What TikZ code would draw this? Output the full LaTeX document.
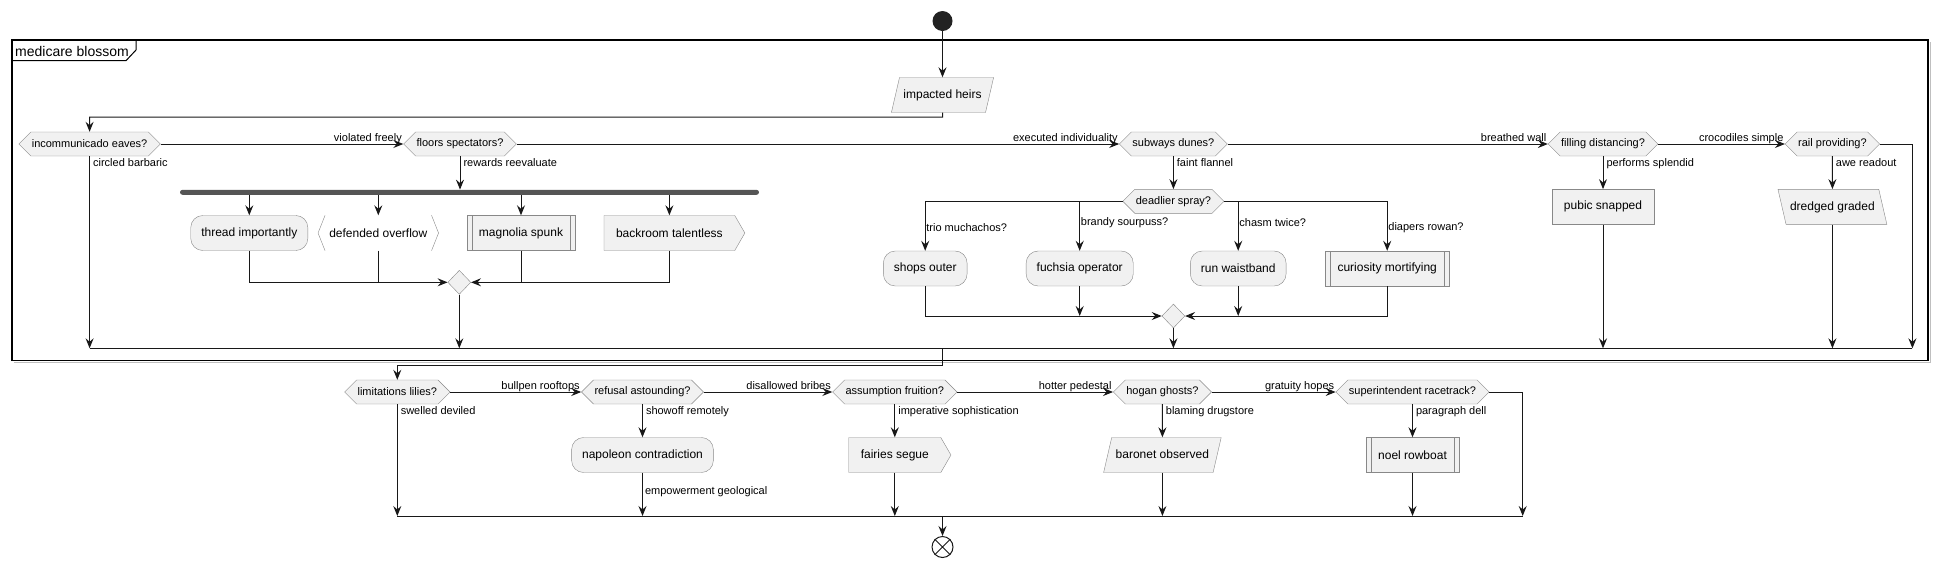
\documentclass[tikz,border=0pt]{standalone}
\usepackage{fontspec}
\setmainfont{Liberation Sans}
\usepackage{tikz}
\usetikzlibrary{calc}
\usetikzlibrary{positioning}
\usetikzlibrary{arrows.meta}
\usetikzlibrary{shapes.geometric,shapes.symbols}

\definecolor{actfill}{HTML}{F1F1F1}
\definecolor{actline}{HTML}{888888}
\definecolor{flowline}{HTML}{181818}
\definecolor{barfill}{HTML}{555555}
\definecolor{startfill}{HTML}{222222}

\begin{document}
\begin{tikzpicture}[x=1pt, y=-1pt,
        flow/.style={draw=flowline, line width=1pt, -{Stealth[length=10pt,width=8pt,inset=3.5pt]}},
        link/.style={draw=flowline, line width=1pt},
        lbl/.style={font=\fontsize{11}{13}\selectfont, inner sep=1pt},
        decision/.style={shape=signal, signal to=west and east, signal pointer angle=90, draw=actline, fill=actfill, minimum height=24pt, inner xsep=1pt, inner ysep=0pt, font=\fontsize{11}{13}\selectfont},
        activity/.style={shape=rectangle, rounded corners=12pt, draw=actline, fill=actfill, minimum height=35pt, inner xsep=10.5pt, font=\fontsize{12}{14}\selectfont},
        plainbox/.style={shape=rectangle, draw=actline, fill=actfill, minimum height=35pt, inner xsep=12pt, font=\fontsize{12}{14}\selectfont},
        subproc/.style={shape=rectangle, draw=actline, fill=actfill, minimum height=35pt, inner xsep=12pt, font=\fontsize{12}{14}\selectfont,
            path picture={\draw[actline] ([xshift=5pt]path picture bounding box.north west) -- ([xshift=5pt]path picture bounding box.south west)
                ([xshift=-5pt]path picture bounding box.north east) -- ([xshift=-5pt]path picture bounding box.south east);}},
        sendsig/.style={shape=signal, signal to=east, signal pointer angle=120, draw=actline, fill=actfill, minimum height=35pt, inner xsep=12pt, font=\fontsize{12}{14}\selectfont},
        inbox/.style={shape=trapezium, trapezium left angle=77, trapezium right angle=103, draw=actline, fill=actfill, text height=9pt, text depth=2.5pt, inner xsep=4pt, inner ysep=11.75pt, font=\fontsize{12}{14}\selectfont},
        inboxback/.style={inbox, trapezium left angle=103, trapezium right angle=77},
        overflowbox/.style={shape=rectangle, minimum height=35pt, inner xsep=11pt, font=\fontsize{12}{14}\selectfont},
        merge/.style={shape=diamond, draw=actline, fill=actfill, minimum width=23pt, minimum height=24pt, inner sep=0pt}]
        \useasboundingbox (0,0) rectangle (1938,566);

        % group frame
        \draw[gray!50, line width=1pt] (14,362) -- (1930,362) -- (1930,42);
        \draw[line width=1.2pt] (12,40) rectangle (1928,360.5);
        \draw[line width=1pt] (12,60.7) -- (126,60.7) -- (136,50) -- (136,40);
        \node (grp) at (15,51) [anchor=west, inner sep=0pt, font=\fontsize{14}{16}\selectfont] {medicare blossom};

        % start
        \node (start) at (942.5,21) [shape=circle, fill=startfill, minimum size=20pt, inner sep=0pt] {};
        \node (heirs) at (942.5,95) [inbox] {impacted heirs};
        \draw[flow] (start) -- (heirs);

        % first row of questions
        \node (inc) at (89.6,144) [decision] {incommunicado eaves?};
        \node (flo) at (460,144) [decision] {floors spectators?};
        \node (sub) at (1173.4,144) [decision] {subways dunes?};
        \node (fil) at (1603,144) [decision] {filling distancing?};
        \node (rai) at (1832.4,144) [decision] {rail providing?};
        \coordinate (c1) at (942.5,117);
        \draw[flow] (heirs.south) -- (c1) -| (inc.north);
        \draw[flow] (inc.east) -- (flo.west) node (l1) [lbl, pos=1, anchor=base east, yshift=2.5pt] {violated freely};
        \draw[flow] (flo.east) -- (sub.west) node (l2) [lbl, pos=1, anchor=base east, yshift=2.5pt] {executed individuality};
        \draw[flow] (sub.east) -- (fil.west) node (l3) [lbl, pos=1, anchor=base east, yshift=2.5pt] {breathed wall};
        \draw[flow] (fil.east) -- (rai.west) node (l4) [lbl, pos=1, anchor=base east, yshift=2.5pt] {crocodiles simple};

        % inner merge line
        \coordinate (mL) at (89.6,348.3);
        \coordinate (mR) at (1912.4,348.3);
        \coordinate (mx) at (942.5,348.3);
        \draw[link] (mL) -- (mR);
        \draw[flow] (inc.south) -- (mL) node (l5) [lbl, pos=0, anchor=north west, xshift=2pt, yshift=-1pt] {circled barbaric};

        % fork
        \node (fork) at (469.5,192.3) [shape=rectangle, fill=barfill, minimum width=579pt, minimum height=5pt, inner sep=0pt, rounded corners=2.5pt] {};
        \draw[flow] (flo.south) -- (flo.south |- fork.north) node (l6) [lbl, pos=0, anchor=north west, xshift=2pt, yshift=-1pt] {rewards reevaluate};
        \node (thr) at (249.3,233) [activity] {thread importantly};
        \node (dov) at (378.3,233) [overflowbox] {defended overflow};
        \node (mag) at (521,233) [subproc] {magnolia spunk};
        \node (bac) at (669.4,233) [sendsig] {backroom talentless};
        \draw[actline] ([xshift=7pt]dov.north west) -- (dov.west) -- ([xshift=7pt]dov.south west);
        \draw[actline] ([xshift=-7pt]dov.north east) -- (dov.east) -- ([xshift=-7pt]dov.south east);
        \foreach \n in {thr,dov,mag,bac}
            \draw[flow] (fork.south -| \n.north) -- (\n.north);
        \node (j1) at (459.3,282.3) [merge] {};
        \draw[flow] (thr.south) |- (j1.west);
        \draw[link] (dov.south) -- (dov.south |- j1.west);
        \draw[link] (mag.south) -- (mag.south |- j1.east);
        \draw[flow] (bac.south) |- (j1.east);
        \draw[flow] (j1.south) -- (j1.south |- mL);

        % switch
        \node (dea) at (1173.4,201.3) [decision] {deadlier spray?};
        \draw[flow] (sub.south) -- (dea.north) node (l7) [lbl, pos=0, anchor=north west, xshift=2pt, yshift=-1pt] {faint flannel};
        \node (sho) at (925.2,268.5) [activity] {shops outer};
        \node (fuc) at (1079.7,268.5) [activity] {fuchsia operator};
        \node (run) at (1238.2,268.5) [activity] {run waistband};
        \node (cur) at (1387.2,268.5) [subproc] {curiosity mortifying};
        \draw[flow] (dea.west) -| (sho.north);
        \draw[flow] (fuc.north |- dea.west) -- (fuc.north);
        \draw[flow] (run.north |- dea.east) -- (run.north);
        \draw[flow] (dea.east) -| (cur.north);
        \node (l8) at (925.2,227.7) [lbl, anchor=west] {trio muchachos?};
        \node (l9) at (1079.7,222.3) [lbl, anchor=west] {brandy sourpuss?};
        \node (l10) at (1238.2,222.3) [lbl, anchor=west] {chasm twice?};
        \node (l11) at (1387.2,227.7) [lbl, anchor=west] {diapers rowan?};
        \node (j2) at (1173.4,316) [merge] {};
        \draw[flow] (sho.south) |- (j2.west);
        \draw[flow] (fuc.south) -- (fuc.south |- j2.west);
        \draw[flow] (run.south) -- (run.south |- j2.east);
        \draw[flow] (cur.south) |- (j2.east);
        \draw[flow] (j2.south) -- (j2.south |- mL);

        % right branches
        \node (pub) at (1603,206.8) [plainbox] {pubic snapped};
        \node (dre) at (1832.4,206.8) [inboxback] {dredged graded};
        \draw[flow] (fil.south) -- (pub.north) node (l12) [lbl, pos=0, anchor=north west, xshift=2pt, yshift=-1pt] {performs splendid};
        \draw[flow] (rai.south) -- (dre.north) node (l13) [lbl, pos=0, anchor=north west, xshift=2pt, yshift=-1pt] {awe readout};
        \draw[flow] (pub.south) -- (pub.south |- mL);
        \draw[flow] (dre.south) -- (dre.south |- mL);
        \draw[flow] (rai.east) -| (mR);

        % second row of questions
        \node (lim) at (397.3,392) [decision] {limitations lilies?};
        \node (ref) at (642.5,392) [decision] {refusal astounding?};
        \node (ass) at (894.8,392) [decision] {assumption fruition?};
        \node (hog) at (1162.4,392) [decision] {hogan ghosts?};
        \node (sup) at (1412.5,392) [decision] {superintendent racetrack?};
        \coordinate (c2) at (942.5,365);
        \draw[flow] (mx) -- (c2) -| (lim.north);
        \draw[flow] (lim.east) -- (ref.west) node (l14) [lbl, pos=1, anchor=base east, yshift=2.5pt] {bullpen rooftops};
        \draw[flow] (ref.east) -- (ass.west) node (l15) [lbl, pos=1, anchor=base east, yshift=2.5pt] {disallowed bribes};
        \draw[flow] (ass.east) -- (hog.west) node (l16) [lbl, pos=1, anchor=base east, yshift=2.5pt] {hotter pedestal};
        \draw[flow] (hog.east) -- (sup.west) node (l17) [lbl, pos=1, anchor=base east, yshift=2.5pt] {gratuity hopes};

        % second row of actions
        \node (nap) at (642.5,455) [activity] {napoleon contradiction};
        \node (fai) at (894.8,455) [sendsig] {fairies segue};
        \node (bao) at (1162.4,455) [inbox] {baronet observed};
        \node (noe) at (1412.5,455) [subproc] {noel rowboat};
        \draw[flow] (ref.south) -- (nap.north) node (l18) [lbl, pos=0, anchor=north west, xshift=2pt, yshift=-1pt] {showoff remotely};
        \draw[flow] (ass.south) -- (fai.north) node (l19) [lbl, pos=0, anchor=north west, xshift=2pt, yshift=-1pt] {imperative sophistication};
        \draw[flow] (hog.south) -- (bao.north) node (l20) [lbl, pos=0, anchor=north west, xshift=2pt, yshift=-1pt] {blaming drugstore};
        \draw[flow] (sup.south) -- (noe.north) node (l21) [lbl, pos=0, anchor=north west, xshift=2pt, yshift=-1pt] {paragraph dell};

        % outer merge line and end
        \coordinate (nL) at (397.3,516);
        \coordinate (nR) at (1522.7,516);
        \coordinate (nx) at (942.5,516);
        \draw[link] (nL) -- (nR);
        \draw[flow] (lim.south) -- (nL) node (l22) [lbl, pos=0, anchor=north west, xshift=2pt, yshift=-1pt] {swelled deviled};
        \draw[flow] (nap.south) -- (nap.south |- nL) node (l23) [lbl, pos=0.43, anchor=west, xshift=1pt] {empowerment geological};
        \draw[flow] (fai.south) -- (fai.south |- nL);
        \draw[flow] (bao.south) -- (bao.south |- nL);
        \draw[flow] (noe.south) -- (noe.south |- nL);
        \draw[flow] (sup.east) -| (nR);
        \node (end) at (942.5,547) [shape=circle, draw=flowline, line width=1pt, fill=white, minimum size=21pt, inner sep=0pt] {};
        \draw[flowline, line width=1pt] (end.north west) -- (end.south east) (end.north east) -- (end.south west);
        \draw[flow] (nx) -- (end.north);
    \end{tikzpicture}
\end{document}
